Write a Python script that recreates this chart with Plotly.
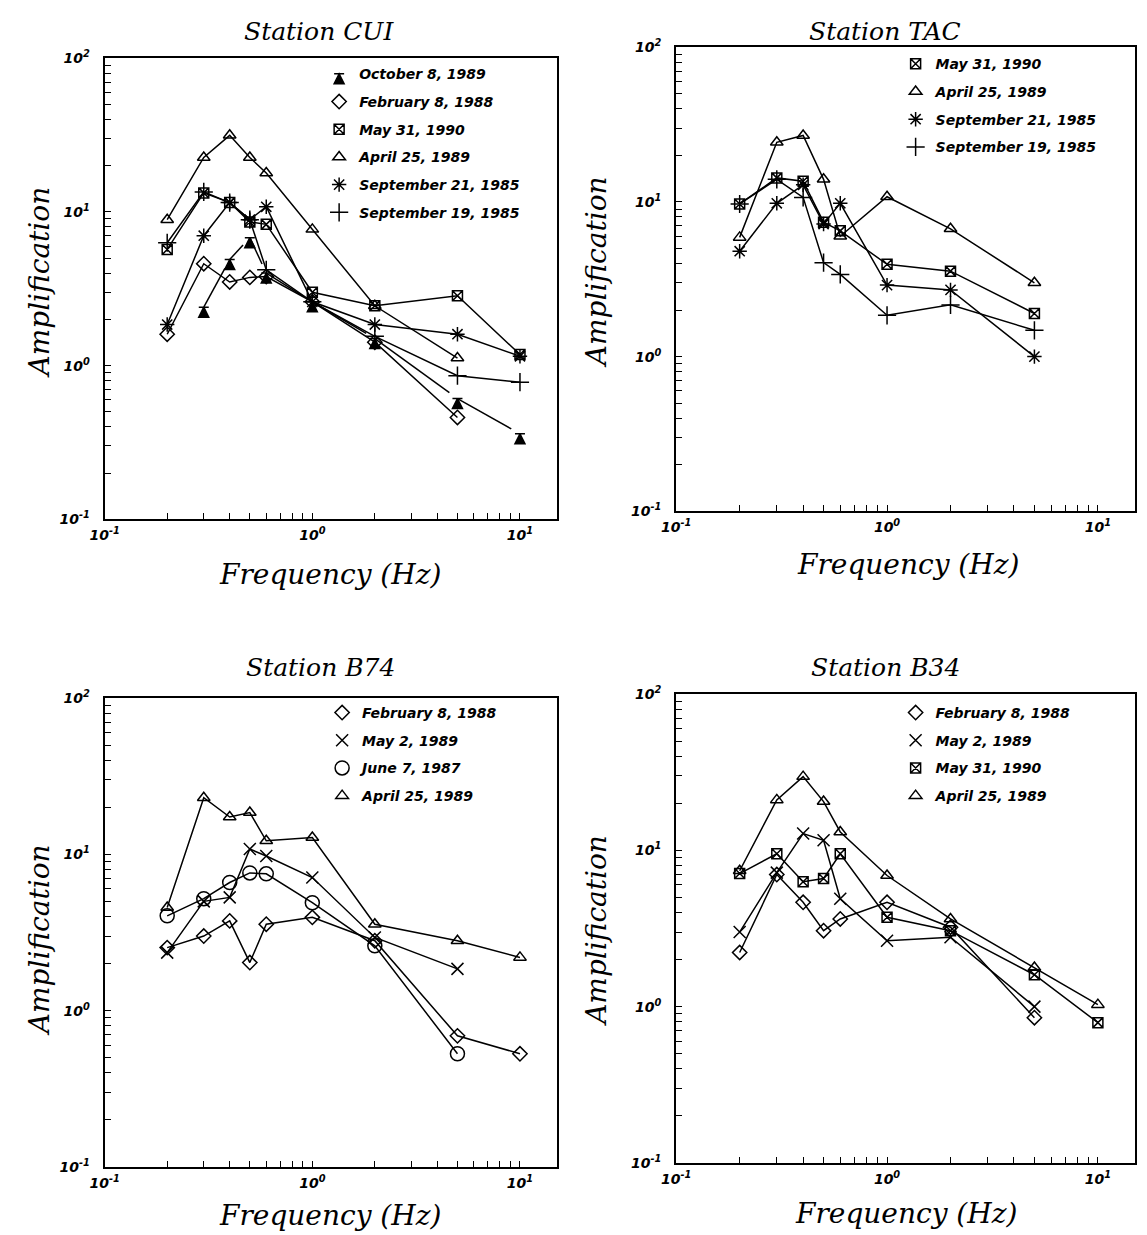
import plotly.graph_objects as go

# frequencies (Hz) shared by all stations
FREQ = [0.2, 0.3, 0.4, 0.5, 0.6, 1.0, 2.0, 5.0, 10.0]

# Station CUI
cui_oct08_1989 = [None, 2.4, 4.9, 6.8, 4.0, 2.6, 1.5, 0.61, 0.36]
cui_feb08_1988 = [1.6, 4.6, 3.5, 3.75, 3.8, 2.6, 1.42, 0.46, None]
cui_may31_1990 = [5.7, 13.3, 11.5, 8.6, 8.3, 3.0, 2.45, 2.85, 1.18]
cui_apr25_1989 = [8.9, 22.6, 31.5, 22.6, 17.9, 7.7, 2.45, 1.12, None]
cui_sep21_1985 = [1.85, 7.0, 11.5, 8.9, 10.8, 2.6, 1.85, 1.6, 1.15]
cui_sep19_1985 = [6.3, 13.5, 11.5, 8.9, 4.2, 2.6, 1.55, 0.86, 0.78]

# Station TAC
tac_may31_1990 = [9.7, 14.3, 13.6, 7.4, 6.5, 3.95, 3.57, 1.9, None]
tac_apr25_1989 = [5.9, 24.3, 26.9, 14.0, 6.0, 10.8, 6.7, 3.0, None]
tac_sep21_1985 = [4.8, 9.8, 12.9, 7.2, 9.8, 2.9, 2.7, 1.0, None]
tac_sep19_1985 = [9.7, 14.0, 10.7, 4.05, 3.4, 1.85, 2.16, 1.48, None]

# Station B74
b74_feb08_1988 = [2.53, 3.0, 3.75, 2.03, 3.57, 3.95, 2.8, 0.69, 0.53]
b74_may02_1989 = [2.35, 5.0, 5.3, 10.8, 9.75, 7.1, 2.94, 1.85, None]
b74_jun07_1987 = [4.04, 5.2, 6.6, 7.6, 7.5, 4.9, 2.6, 0.53, None]
b74_apr25_1989 = [4.57, 23.0, 17.3, 18.5, 12.2, 12.8, 3.57, 2.8, 2.19]

# Station B34
b34_feb08_1988 = [2.22, 7.0, 4.65, 3.06, 3.64, 4.65, 3.22, 0.85, None]
b34_may02_1989 = [3.0, 7.2, 12.8, 11.6, 4.9, 2.64, 2.78, 1.0, None]
b34_may31_1990 = [7.1, 9.5, 6.3, 6.6, 9.5, 3.73, 3.06, 1.6, 0.79]
b34_apr25_1989 = [7.4, 21.0, 29.6, 20.5, 13.1, 6.9, 3.64, 1.78, 1.03]

STATIONS = ["CUI", "TAC", "B74", "B34"]

PANELS = {
    "CUI": [("October 8, 1989", cui_oct08_1989),
            ("February 8, 1988", cui_feb08_1988),
            ("May 31, 1990", cui_may31_1990),
            ("April 25, 1989", cui_apr25_1989),
            ("September 21, 1985", cui_sep21_1985),
            ("September 19, 1985", cui_sep19_1985)],
    "TAC": [("May 31, 1990", tac_may31_1990),
            ("April 25, 1989", tac_apr25_1989),
            ("September 21, 1985", tac_sep21_1985),
            ("September 19, 1985", tac_sep19_1985)],
    "B74": [("February 8, 1988", b74_feb08_1988),
            ("May 2, 1989", b74_may02_1989),
            ("June 7, 1987", b74_jun07_1987),
            ("April 25, 1989", b74_apr25_1989)],
    "B34": [("February 8, 1988", b34_feb08_1988),
            ("May 2, 1989", b34_may02_1989),
            ("May 31, 1990", b34_may31_1990),
            ("April 25, 1989", b34_apr25_1989)],
}

# marker per earthquake
SYMBOLS = {
    "October 8, 1989": ("arrow-bar-up", 10),
    "February 8, 1988": ("diamond-open", 11),
    "May 31, 1990": ("square-x-open", 10),
    "April 25, 1989": ("triangle-up-open", 11),
    "September 21, 1985": ("asterisk-open", 12),
    "September 19, 1985": ("cross-thin-open", 13),
    "May 2, 1989": ("x-thin-open", 12),
    "June 7, 1987": ("circle-open", 14),
}

# figure size and the measured offset/scale of the photographed figure
W, H = 1147, 1235
AX, SX = 20.1, 0.9895
AY, SY = 15.7, 0.9874


def px(x, lo=0):
    fx = max((x - AX) / SX, lo)
    return fx / W


def py(y, lo=0, hi=None):
    fy = max((y - AY) / SY, lo)
    if hi is not None:
        fy = min(fy, hi)
    return 1 - fy / H


BOXES = {  # left, right, top, bottom in target pixels
    "CUI": (102, 555, 56, 518),
    "TAC": (675, 1135, 45, 510),
    "B74": (102, 555, 697, 1167),
    "B34": (675, 1135, 693, 1163),
}
LEGEND_POS = {  # text start x, first row y
    "CUI": (357, 73),
    "TAC": (935, 63),
    "B74": (360, 713),
    "B34": (935, 713),
}
TITLE_POS = {"CUI": (317, 25), "TAC": (884, 15), "B74": (318, 667), "B34": (885, 667)}
XLAB_POS = {"CUI": (328, 573), "TAC": (907, 563), "B74": (328, 1216), "B34": (905, 1214)}
YLAB_POS = {"CUI": (21, 281), "TAC": (595, 270), "B74": (21, 940), "B34": (595, 930)}

serif = "DejaVu Serif"
ink = "black"

fig = go.Figure()


# log ticks: labelled decades plus unlabelled 2..9 minor ticks
def log_ticks(lo, hi):
    major, labels, minor = [], [], []
    for d in range(lo, hi + 1):
        major.append(10 ** d)
        labels.append(f"10<sup>{d}</sup>")
        if d < hi:
            minor.extend(m * 10 ** d for m in range(2, 10))
    return major, labels, minor


xt_vals, xt_text, xt_minor = log_ticks(-1, 1)
yt_vals, yt_text, yt_minor = log_ticks(-1, 2)

layout = {}
for i, st in enumerate(STATIONS, start=1):
    sfx = "" if i == 1 else str(i)
    l, r, t, b = BOXES[st]
    common = dict(
        type="log", showline=True, linewidth=2, linecolor=ink, mirror=True,
        showgrid=False, zeroline=False, ticks="inside", ticklen=6,
        tickwidth=1.2, tickcolor=ink, tickmode="array",
        tickfont=dict(family="DejaVu Sans", size=14, color=ink,
                      style="italic", weight="bold"),
    )
    minor_style = dict(ticks="inside", ticklen=6, tickwidth=1.2, tickcolor=ink,
                       tickmode="array", showgrid=False)
    layout["xaxis" + sfx] = dict(common, domain=[px(l), px(r)], range=[-1, 1.176],
                                 tickvals=xt_vals, ticktext=xt_text,
                                 minor=dict(minor_style, tickvals=xt_minor),
                                 anchor="y" + sfx, ticklabelstandoff=2)
    layout["yaxis" + sfx] = dict(common, domain=[py(b), py(t)], range=[-1, 2],
                                 tickvals=yt_vals, ticktext=yt_text,
                                 minor=dict(minor_style, tickvals=yt_minor),
                                 anchor="x" + sfx, ticklabelstandoff=10)
    tx, ty = LEGEND_POS[st]
    layout["legend" + sfx] = dict(
        x=px(tx - 40), y=py(ty - 17), xanchor="left", yanchor="top",
        bgcolor="rgba(0,0,0,0)", traceorder="grouped", tracegroupgap=6.5,
        itemwidth=30,
        font=dict(family="DejaVu Sans", size=14, color=ink,
                  weight="bold", style="italic"),
    )

    for name, vals in PANELS[st]:
        sym, size = SYMBOLS[name]
        marker = dict(symbol=sym, size=size, color=ink,
                      line=dict(color=ink, width=1.5))
        fig.add_trace(go.Scatter(
            x=FREQ, y=vals, mode="lines+markers", name=name,
            line=dict(color=ink, width=1.5), marker=marker,
            xaxis="x" + sfx, yaxis="y" + sfx, showlegend=False,
        ))
        # marker-only legend entry
        fig.add_trace(go.Scatter(
            x=[None], y=[None], mode="markers", name=name, marker=marker,
            xaxis="x" + sfx, yaxis="y" + sfx, showlegend=True,
            legend="legend" + sfx, legendgroup=st + name,
        ))

# titles and axis labels as annotations
annotations = []
title_font = dict(family=serif, size=25, color=ink, style="italic")
label_font = dict(family=serif, size=28, color=ink, style="italic")
for st in STATIONS:
    x0, y0 = TITLE_POS[st]
    annotations.append(dict(text=f"Station {st}", x=px(x0), y=py(y0, lo=14),
                            xref="paper", yref="paper", showarrow=False,
                            xanchor="center", yanchor="middle", font=title_font))
    x0, y0 = XLAB_POS[st]
    annotations.append(dict(text="Frequency (Hz)", x=px(x0), y=py(y0, hi=H - 18),
                            xref="paper", yref="paper", showarrow=False,
                            xanchor="center", yanchor="middle", font=label_font))
    x0, y0 = YLAB_POS[st]
    annotations.append(dict(text="Amplification", x=px(x0, lo=17), y=py(y0),
                            xref="paper", yref="paper", showarrow=False,
                            textangle=-90, xanchor="center", yanchor="middle",
                            font=label_font))

fig.update_layout(
    **layout,
    annotations=annotations,
    width=W, height=H,
    margin=dict(l=0, r=0, t=0, b=0),
    paper_bgcolor="white", plot_bgcolor="white",
    showlegend=True,
)

fig.write_html("out.html")
